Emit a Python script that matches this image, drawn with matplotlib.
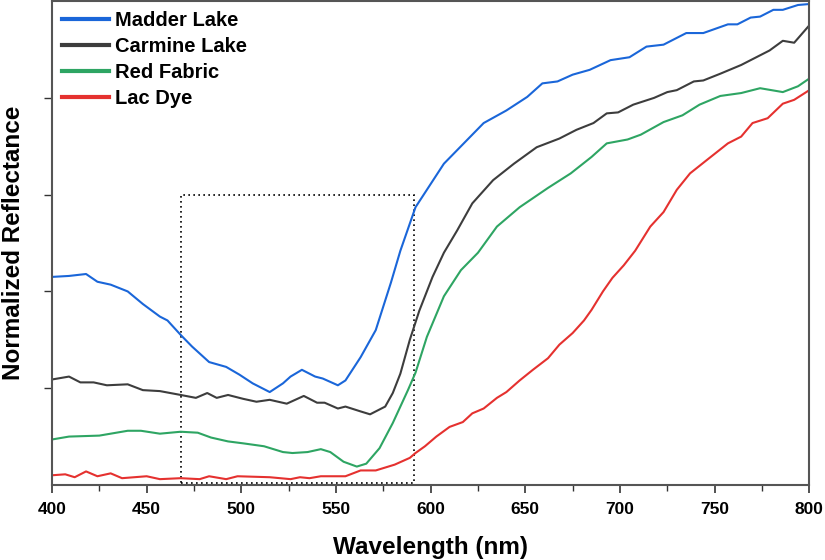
import matplotlib
matplotlib.use('Agg')
import matplotlib.pyplot as plt
from matplotlib.patches import Rectangle

plt.rcParams['font.family'] = ['Liberation Sans', 'DejaVu Sans']
plt.rcParams['font.weight'] = 'bold'

# Madder Lake
wl_madder = [400, 409, 418, 424, 431, 440, 448, 457, 461, 468, 474, 483, 492, 499, 506, 515,
             522, 526, 532, 539, 543, 551, 555, 563, 571, 579, 584, 592, 607, 619, 628, 640,
             651, 659, 667, 675, 684, 695, 705, 714, 723, 735, 744, 757, 762, 769, 774, 781,
             786, 794, 800]
r_madder = [2.15, 2.16, 2.18, 2.10, 2.07, 2.00, 1.87, 1.74, 1.70, 1.55, 1.43, 1.27, 1.22, 1.14, 1.05, 0.96,
            1.05, 1.12, 1.19, 1.12, 1.10, 1.03, 1.08, 1.32, 1.60, 2.09, 2.42, 2.87, 3.32, 3.56, 3.74, 3.87,
            4.01, 4.15, 4.17, 4.24, 4.29, 4.39, 4.42, 4.53, 4.55, 4.67, 4.67, 4.76, 4.76, 4.83, 4.84, 4.91,
            4.91, 4.96, 4.97]

# Carmine Lake
wl_carmine = [400, 409, 415, 422, 429, 440, 448, 457, 468, 476, 482, 487, 493, 501, 508, 515,
              524, 533, 540, 544, 551, 555, 563, 568, 576, 580, 584, 589, 594, 601, 607, 614,
              622, 633, 644, 656, 668, 677, 686, 693, 699, 707, 718, 725, 730, 739, 744, 753,
              764, 768, 776, 779, 786, 792, 800]
r_carmine = [1.09, 1.12, 1.06, 1.06, 1.03, 1.04, 0.98, 0.97, 0.93, 0.90, 0.95, 0.90, 0.93, 0.89, 0.86, 0.88,
             0.84, 0.92, 0.85, 0.85, 0.79, 0.81, 0.76, 0.73, 0.81, 0.95, 1.15, 1.50, 1.80, 2.15, 2.40, 2.63,
             2.91, 3.15, 3.32, 3.49, 3.58, 3.67, 3.74, 3.84, 3.85, 3.93, 4.00, 4.06, 4.08, 4.17, 4.18, 4.25,
             4.34, 4.38, 4.46, 4.49, 4.59, 4.57, 4.75]

# Red Fabric
wl_fabric = [400, 409, 425, 440, 447, 457, 468, 477, 484, 493, 501, 512, 522, 527, 535, 542,
             547, 554, 561, 566, 573, 580, 588, 592, 598, 607, 616, 625, 635, 647, 662, 674,
             685, 693, 704, 711, 723, 733, 742, 753, 764, 774, 786, 794, 800]
r_fabric = [0.47, 0.50, 0.51, 0.56, 0.56, 0.53, 0.55, 0.54, 0.49, 0.45, 0.43, 0.40, 0.34, 0.33, 0.34, 0.37,
            0.34, 0.24, 0.19, 0.22, 0.38, 0.64, 0.98, 1.16, 1.53, 1.95, 2.22, 2.40, 2.67, 2.87, 3.07, 3.22,
            3.39, 3.53, 3.57, 3.62, 3.75, 3.82, 3.93, 4.02, 4.05, 4.10, 4.06, 4.12, 4.20]

# Lac Dye
wl_lac = [400, 407, 412, 418, 424, 431, 437, 450, 457, 468, 478, 483, 492, 498, 515, 526,
          531, 536, 542, 555, 563, 571, 581, 589, 592, 597, 603, 610, 617, 622, 628, 635,
          640, 647, 654, 662, 668, 675, 681, 685, 691, 696, 702, 708, 716, 723, 730, 737,
          746, 757, 764, 770, 778, 786, 792, 800]
r_lac = [0.10, 0.11, 0.08, 0.14, 0.09, 0.12, 0.07, 0.09, 0.06, 0.07, 0.06, 0.09, 0.06, 0.09, 0.08, 0.06,
         0.08, 0.07, 0.09, 0.09, 0.15, 0.15, 0.21, 0.28, 0.33, 0.40, 0.50, 0.60, 0.65, 0.74, 0.79, 0.90,
         0.96, 1.08, 1.19, 1.31, 1.45, 1.57, 1.70, 1.81, 2.00, 2.14, 2.27, 2.42, 2.67, 2.82, 3.05, 3.22,
         3.36, 3.53, 3.60, 3.74, 3.79, 3.94, 3.98, 4.08]

# dotted box (region of interest)
box_x = (468, 591)
box_y = (0.025, 3.0)

fig = plt.figure(figsize=(8.25, 5.6), dpi=100)
ax = fig.add_axes([0.063, 0.134, 0.918, 0.864])

ax.plot(wl_madder, r_madder, color='#1a66d9', lw=1.5, label='Madder Lake')
ax.plot(wl_carmine, r_carmine, color='#3d3d3d', lw=1.5, label='Carmine Lake')
ax.plot(wl_fabric, r_fabric, color='#2ea563', lw=1.5, label='Red Fabric')
ax.plot(wl_lac, r_lac, color='#e5312f', lw=1.5, label='Lac Dye')

ax.add_patch(Rectangle((box_x[0], box_y[0]), box_x[1] - box_x[0], box_y[1] - box_y[0],
                       fill=False, ls=(0, (1, 2)), lw=1.2, ec='black'))

ax.set_xlim(400, 800)
ax.set_ylim(0, 5)
ax.set_xticks(range(400, 801, 50))
ax.set_xticks(range(425, 800, 50), minor=True)
ax.set_yticks([1, 2, 3, 4])
ax.set_yticklabels([])
ax.tick_params(axis='x', labelsize=12.5, length=6, width=1.2, color='#333333', pad=6)
ax.tick_params(axis='x', which='minor', length=4, width=1.0, color='#333333')
ax.tick_params(axis='y', length=6, width=1.0, color='#333333')
for s in ax.spines.values():
    s.set_color('#555555')
    s.set_linewidth(1.5)

ax.set_xlabel('Wavelength (nm)', fontsize=17.5, fontweight='bold', labelpad=14)
ax.set_ylabel('Normalized Reflectance', fontsize=17.5, fontweight='bold')
ax.yaxis.set_label_coords(-0.036, 0.5)

leg = ax.legend(loc='upper left', frameon=False, fontsize=14.5, handlelength=2.35,
                handletextpad=0.3, labelspacing=0.35, borderaxespad=0.3, borderpad=0.2)
for h in leg.get_lines():
    h.set_linewidth(3)

fig.savefig('out.png', dpi=100)
